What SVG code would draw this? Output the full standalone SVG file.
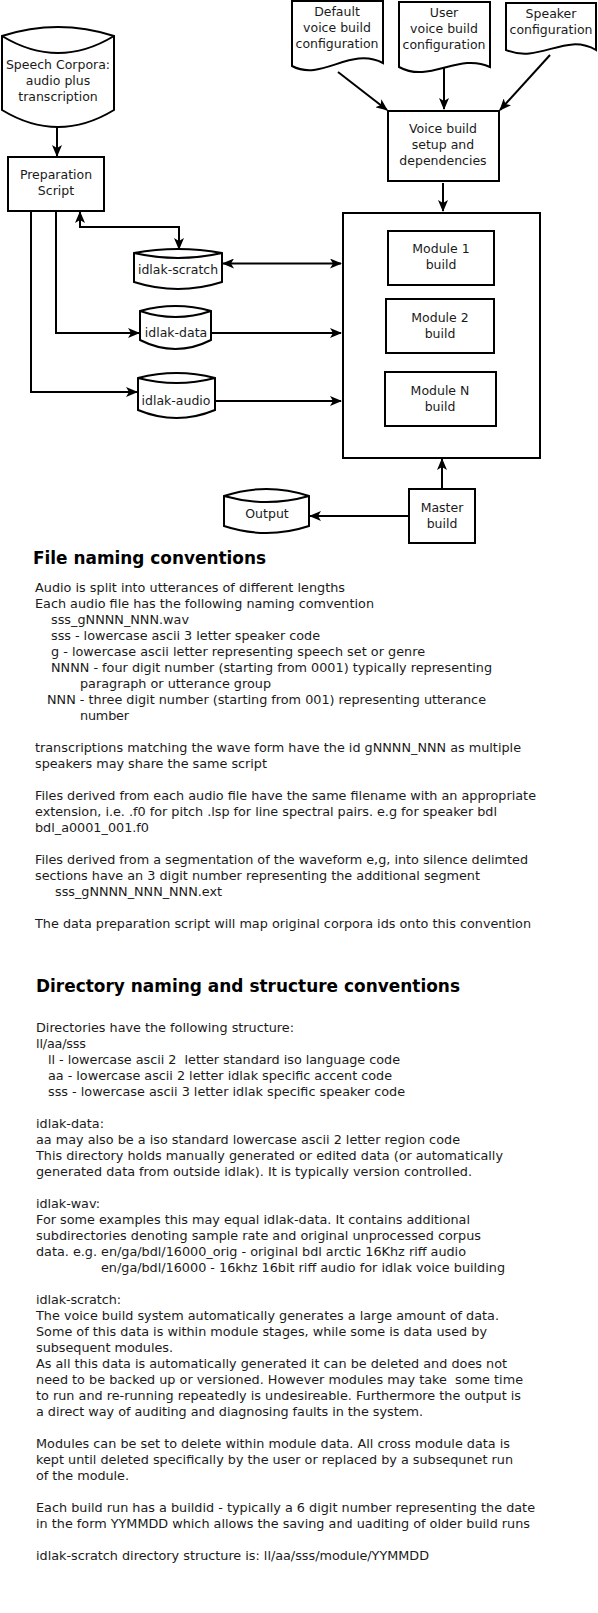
<svg xmlns="http://www.w3.org/2000/svg" width="598" height="1613" viewBox="0 0 598 1613">
<style>
.s{fill:#fff;stroke:#000;stroke-width:2;stroke-linejoin:miter}
.n{font-family:"DejaVu Sans",sans-serif;font-size:12.5px;fill:#1a1a1a;text-anchor:middle}
.c{fill:none;stroke:#000;stroke-width:2}
.b{font-family:"DejaVu Sans",sans-serif;font-size:12.8px;fill:#1a1a1a}
.h{font-family:"DejaVu Sans",sans-serif;font-size:17.5px;font-weight:bold;fill:#000}
</style>
<defs>
<marker id="ah" viewBox="0 0 12 10" refX="11" refY="5" markerWidth="12" markerHeight="10" markerUnits="userSpaceOnUse" orient="auto-start-reverse">
<path d="M0,0 L12,5 L0,10 L3,5 z" fill="#000"/>
</marker>
</defs>
<rect width="598" height="1613" fill="#fff"/>

<g id="speech-corpora">
<path class="s" d="M2,36 Q58,18 114,36 L114,110 Q58,144 2,110 Z"/>
<path class="c" d="M2,36 Q58,70 114,36"/>
<text class="n" x="58" y="69">Speech Corpora:</text>
<text class="n" x="58" y="85">audio plus</text>
<text class="n" x="58" y="101">transcription</text>
</g>

<g id="preparation-script">
<rect class="s" x="8" y="157" width="96" height="54"/>
<text class="n" x="56" y="179">Preparation</text>
<text class="n" x="56" y="195">Script</text>
</g>

<g id="idlak-scratch">
<path class="s" d="M134,253 Q178,245 222,253 L222,282 Q178,296 134,282 Z"/>
<path class="c" d="M134,253 Q178,263 222,253"/>
<text class="n" x="178" y="274">idlak-scratch</text>
</g>

<g id="idlak-data">
<path class="s" d="M140,311 Q175.5,301 211,311 L211,340 Q175.5,358 140,340 Z"/>
<path class="c" d="M140,311 Q175.5,323 211,311"/>
<text class="n" x="176" y="337">idlak-data</text>
</g>

<g id="idlak-audio">
<path class="s" d="M138,378 Q176.5,368 215,378 L215,410 Q176.5,426 138,410 Z"/>
<path class="c" d="M138,378 Q176.5,388 215,378"/>
<text class="n" x="176" y="405">idlak-audio</text>
</g>

<g id="default-config">
<path class="s" d="M292,1 L383,1 L383,63 C350,46 322,82 292,66 Z"/>
<text class="n" x="337" y="16">Default</text>
<text class="n" x="337" y="32">voice build</text>
<text class="n" x="337" y="48">configuration</text>
</g>

<g id="user-config">
<path class="s" d="M399,2 L490,2 L490,67 C458,52 430,84 399,67 Z"/>
<text class="n" x="444" y="17">User</text>
<text class="n" x="444" y="33">voice build</text>
<text class="n" x="444" y="49">configuration</text>
</g>

<g id="speaker-config">
<path class="s" d="M506,3 L596,3 L596,50 C565,32 540,64 506,50 Z"/>
<text class="n" x="551" y="18">Speaker</text>
<text class="n" x="551" y="34">configuration</text>
</g>

<g id="voice-build-setup">
<rect class="s" x="388" y="111" width="111" height="70"/>
<text class="n" x="443" y="133">Voice build</text>
<text class="n" x="443" y="149">setup and</text>
<text class="n" x="443" y="165">dependencies</text>
</g>

<g id="modules">
<rect class="s" x="343" y="213" width="197" height="245"/>
</g>

<g id="module-1">
<rect class="s" x="388" y="231" width="106" height="54"/>
<text class="n" x="441" y="253">Module 1</text>
<text class="n" x="441" y="269">build</text>
</g>

<g id="module-2">
<rect class="s" x="386" y="299" width="108" height="54"/>
<text class="n" x="440" y="322">Module 2</text>
<text class="n" x="440" y="338">build</text>
</g>

<g id="module-n">
<rect class="s" x="385" y="372" width="111" height="54"/>
<text class="n" x="440" y="395">Module N</text>
<text class="n" x="440" y="411">build</text>
</g>

<g id="master-build">
<rect class="s" x="409" y="489" width="66" height="54"/>
<text class="n" x="442" y="512">Master</text>
<text class="n" x="442" y="528">build</text>
</g>

<g id="output">
<path class="s" d="M224,496 Q266.5,482 309,496 L309,526 Q266.5,540 224,526 Z"/>
<path class="c" d="M224,496 Q266.5,508 309,496"/>
<text class="n" x="267" y="518">Output</text>
</g>

<g id="connectors">
<path class="c" d="M57,127 L57,156" marker-end="url(#ah)"/>
<path class="c" d="M80,212 L80,227 L179,227 L179,249" marker-start="url(#ah)" marker-end="url(#ah)"/>
<path class="c" d="M56,211 L56,333 L139,333" marker-end="url(#ah)"/>
<path class="c" d="M31,211 L31,392 L137,392" marker-end="url(#ah)"/>
<path class="c" d="M223,263.5 L341,263.5" marker-start="url(#ah)" marker-end="url(#ah)"/>
<path class="c" d="M211,333 L341,333" marker-end="url(#ah)"/>
<path class="c" d="M215,401 L341,401" marker-end="url(#ah)"/>
<path class="c" d="M338,72 L387,110" marker-end="url(#ah)"/>
<path class="c" d="M444,68 L444,109" marker-end="url(#ah)"/>
<path class="c" d="M550,55 L500,110" marker-end="url(#ah)"/>
<path class="c" d="M443,183 L443,211" marker-end="url(#ah)"/>
<path class="c" d="M442,489 L442,459" marker-end="url(#ah)"/>
<path class="c" d="M409,516 L310,516" marker-end="url(#ah)"/>
</g>

<g id="file-naming-text">
<text class="h" x="33" y="564" textLength="233" lengthAdjust="spacingAndGlyphs">File naming conventions</text>
<text class="b" x="35" y="592" textLength="310">Audio is split into utterances of different lengths</text>
<text class="b" x="35" y="608" textLength="339">Each audio file has the following naming comvention</text>
<text class="b" x="51" y="624" textLength="138">sss_gNNNN_NNN.wav</text>
<text class="b" x="51" y="640" textLength="269">sss - lowercase ascii 3 letter speaker code</text>
<text class="b" x="51" y="656" textLength="374">g - lowercase ascii letter representing speech set or genre</text>
<text class="b" x="51" y="672" textLength="441">NNNN - four digit number (starting from 0001) typically representing</text>
<text class="b" x="80" y="688" textLength="191">paragraph or utterance group</text>
<text class="b" x="47" y="704" textLength="439">NNN - three digit number (starting from 001) representing utterance</text>
<text class="b" x="80" y="720" textLength="49">number</text>
<text class="b" x="35" y="752" textLength="486">transcriptions matching the wave form have the id gNNNN_NNN as multiple</text>
<text class="b" x="35" y="768" textLength="232">speakers may share the same script</text>
<text class="b" x="35" y="800" textLength="501">Files derived from each audio file have the same filename with an appropriate</text>
<text class="b" x="35" y="816" textLength="462">extension, i.e. .f0 for pitch .lsp for line spectral pairs. e.g for speaker bdl</text>
<text class="b" x="35" y="832" textLength="114">bdl_a0001_001.f0</text>
<text class="b" x="35" y="864" textLength="493">Files derived from a segmentation of the waveform e,g, into silence delimted</text>
<text class="b" x="35" y="880" textLength="445">sections have an 3 digit number representing the additional segment</text>
<text class="b" x="55" y="896" textLength="167">sss_gNNNN_NNN_NNN.ext</text>
<text class="b" x="35" y="928" textLength="496">The data preparation script will map original corpora ids onto this convention</text>
</g>

<g id="directory-text">
<text class="h" x="36" y="992" textLength="424" lengthAdjust="spacingAndGlyphs">Directory naming and structure conventions</text>
<text class="b" x="36" y="1032" textLength="258">Directories have the following structure:</text>
<text class="b" x="36" y="1048" textLength="50">ll/aa/sss</text>
<text class="b" x="48" y="1064" textLength="352" xml:space="preserve">ll - lowercase ascii 2  letter standard iso language code</text>
<text class="b" x="48" y="1080" textLength="344">aa - lowercase ascii 2 letter idlak specific accent code</text>
<text class="b" x="48" y="1096" textLength="357">sss - lowercase ascii 3 letter idlak specific speaker code</text>
<text class="b" x="36" y="1128" textLength="68">idlak-data:</text>
<text class="b" x="36" y="1144" textLength="424">aa may also be a iso standard lowercase ascii 2 letter region code</text>
<text class="b" x="36" y="1160" textLength="467">This directory holds manually generated or edited data (or automatically</text>
<text class="b" x="36" y="1176" textLength="436">generated data from outside idlak). It is typically version controlled.</text>
<text class="b" x="36" y="1208" textLength="64">idlak-wav:</text>
<text class="b" x="36" y="1224" textLength="434">For some examples this may equal idlak-data. It contains additional</text>
<text class="b" x="36" y="1240" textLength="445">subdirectories denoting sample rate and original unprocessed corpus</text>
<text class="b" x="36" y="1256" textLength="430">data. e.g. en/ga/bdl/16000_orig - original bdl arctic 16Khz riff audio</text>
<text class="b" x="101" y="1272" textLength="404">en/ga/bdl/16000 - 16khz 16bit riff audio for idlak voice building</text>
<text class="b" x="36" y="1304" textLength="85">idlak-scratch:</text>
<text class="b" x="36" y="1320" textLength="463">The voice build system automatically generates a large amount of data.</text>
<text class="b" x="36" y="1336" textLength="451">Some of this data is within module stages, while some is data used by</text>
<text class="b" x="36" y="1352" textLength="137">subsequent modules.</text>
<text class="b" x="36" y="1368" textLength="471">As all this data is automatically generated it can be deleted and does not</text>
<text class="b" x="36" y="1384" textLength="487" xml:space="preserve">need to be backed up or versioned. However modules may take  some time</text>
<text class="b" x="36" y="1400" textLength="485">to run and re-running repeatedly is undesireable. Furthermore the output is</text>
<text class="b" x="36" y="1416" textLength="387">a direct way of auditing and diagnosing faults in the system.</text>
<text class="b" x="36" y="1448" textLength="474">Modules can be set to delete within module data. All cross module data is</text>
<text class="b" x="36" y="1464" textLength="477">kept until deleted specifically by the user or replaced by a subsequnet run</text>
<text class="b" x="36" y="1480" textLength="93">of the module.</text>
<text class="b" x="36" y="1512" textLength="499">Each build run has a buildid - typically a 6 digit number representing the date</text>
<text class="b" x="36" y="1528" textLength="494">in the form YYMMDD which allows the saving and uaditing of older build runs</text>
<text class="b" x="36" y="1560" textLength="393">idlak-scratch directory structure is: ll/aa/sss/module/YYMMDD</text>
</g>
</svg>
